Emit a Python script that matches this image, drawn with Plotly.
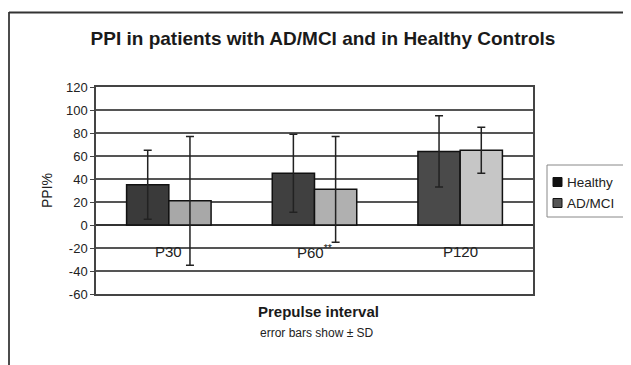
import plotly.graph_objects as go

categories = ["P30", "P60", "P120"]
tick_labels = ["P30", "P60<sup>**</sup>", "P120"]
healthy_mean = [35, 45, 64]
healthy_sd = [30, 34, 31]
admci_mean = [21, 31, 65]
admci_sd = [56, 46, 20]
series_names = ["Healthy", "AD/MCI"]
y_ticks = [-60, -40, -20, 0, 20, 40, 60, 80, 100, 120]
y_tick_text = ["-60", "-40", "-20", "0", "20", "40", "60", "80", "100", "120"]

W, H = 631, 365
OFF = 8  # page body margin offset
L, R, T, B = 96 - OFF, 533 - OFF, 87 - OFF, 294 - OFF  # plot area in figure pixels
pw, ph = R - L, B - T

def px_x(x):  # x given in window pixels
    return (x - OFF - L) / pw

def px_y(y):  # y given in window pixels
    return (B - (y - OFF)) / ph

font_family = "Liberation Sans, Arial, sans-serif"

fig = go.Figure()
fig.add_trace(go.Bar(
    x=categories, y=healthy_mean, name=series_names[0],
    marker=dict(color=["#3a3a3a", "#404040", "#4a4a4a"],
                line=dict(color="#111111", width=1.5)),
    error_y=dict(type="data", array=healthy_sd, visible=True,
                 color="#222222", thickness=1.5, width=4),
))
fig.add_trace(go.Bar(
    x=categories, y=admci_mean, name=series_names[1],
    marker=dict(color=["#a8a8a8", "#b0b0b0", "#c6c6c6"],
                line=dict(color="#111111", width=1.5)),
    error_y=dict(type="data", array=admci_sd, visible=True,
                 color="#222222", thickness=1.5, width=4),
))

fig.update_layout(
    width=W, height=H, autosize=False,
    margin=dict(l=L, r=W - R, t=T, b=H - B, autoexpand=False),
    paper_bgcolor="white", plot_bgcolor="white",
    barmode="group", bargap=0.42, bargroupgap=0,
    font=dict(family=font_family, size=12, color="#222222"),
    title=dict(text="<b>PPI in patients with AD/MCI and in Healthy Controls</b>",
               x=(323 - OFF) / W, y=1 - (38 - OFF) / H, xanchor="center", yanchor="middle",
               font=dict(size=19, color="#1a1a1a", family=font_family)),
    showlegend=False,
)
fig.update_xaxes(showticklabels=False, showgrid=False, showline=True,
                 mirror=True, linecolor="#444444", linewidth=1.5, ticks="")
fig.update_yaxes(range=[-60, 120], tickmode="array", tickvals=y_ticks,
                 ticktext=y_tick_text, showgrid=True,
                 gridcolor="#555555", gridwidth=1.5, showline=True, mirror=True,
                 linecolor="#444444", linewidth=1.5, ticks="outside", ticklen=4,
                 tickcolor="#444444", zeroline=True, zerolinecolor="#333333",
                 zerolinewidth=1.5, tickfont=dict(size=13, color="#222222"))

# category labels sitting just below the zero line
for cat, lab in zip(categories, tick_labels):
    fig.add_annotation(x=cat, y=0, xref="x", yref="y", text=lab, showarrow=False,
                       yanchor="middle", yshift=-26, font=dict(size=15, color="#222222"))

# axis titles
fig.add_annotation(x=px_x(37), y=px_y(190), xref="paper", yref="paper", text="PPI%",
                   textangle=-90, showarrow=False, font=dict(size=14, color="#222222"))
fig.add_annotation(x=px_x(318), y=px_y(322), xref="paper", yref="paper",
                   text="<b>Prepulse interval</b>", showarrow=False,
                   font=dict(size=15, color="#1a1a1a"))
fig.add_annotation(x=px_x(317), y=px_y(342), xref="paper", yref="paper",
                   text="error bars show ± SD", showarrow=False,
                   font=dict(size=12, color="#222222"))

# legend box (Excel-style compact legend)
fig.add_shape(type="rect", xref="paper", yref="paper", x0=px_x(547), x1=px_x(628),
              y0=px_y(217), y1=px_y(165), line=dict(color="#888888", width=1),
              fillcolor="white")
legend_swatches = ["#111111", "#555555"]
legend_rows = [182, 203]
for name, col, yy in zip(series_names, legend_swatches, legend_rows):
    fig.add_shape(type="rect", xref="paper", yref="paper", x0=px_x(553), x1=px_x(562),
                  y0=px_y(yy + 4.5), y1=px_y(yy - 4.5),
                  line=dict(color="#111111", width=1), fillcolor=col)
    fig.add_annotation(x=px_x(565), y=px_y(yy), xref="paper", yref="paper", text=name,
                       xanchor="left", yanchor="middle", showarrow=False,
                       font=dict(size=13.5, color="#222222"))

# scan frame lines
fig.add_shape(type="line", xref="paper", yref="paper", x0=px_x(9), x1=px_x(9),
              y0=px_y(12), y1=px_y(373), line=dict(color="#111111", width=1.5))
fig.add_shape(type="line", xref="paper", yref="paper", x0=px_x(9), x1=px_x(639),
              y0=px_y(12.5), y1=px_y(12.5), line=dict(color="#333333", width=2))

fig.write_html("out.html")
